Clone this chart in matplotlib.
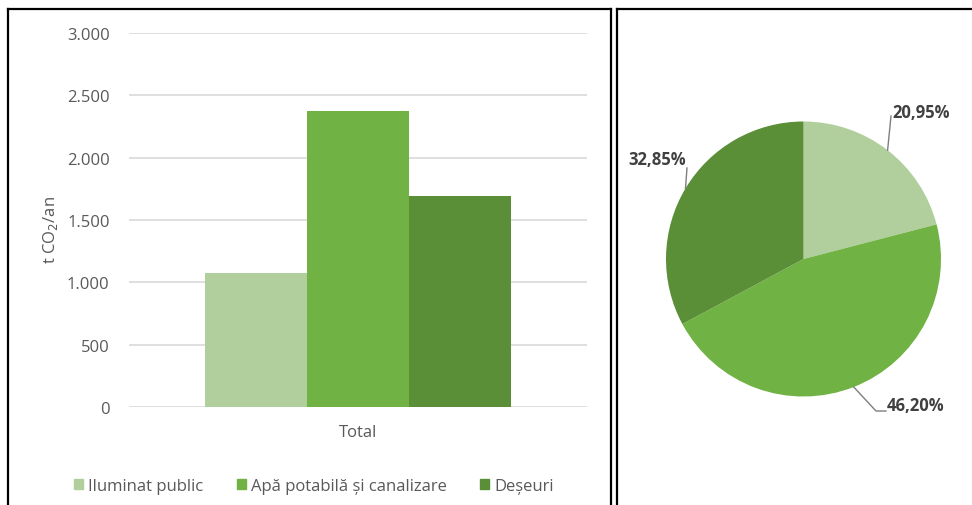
import numpy as np
import matplotlib
matplotlib.use('Agg')
import matplotlib.pyplot as plt
from matplotlib.lines import Line2D
from matplotlib.patches import Patch

plt.rcParams['font.family'] = ['Open Sans', 'DejaVu Sans']

# data
categories = ['Iluminat public', 'Apă potabilă și canalizare', 'Deșeuri']
emissions = [1077, 2376, 1690]          # t CO2/an
shares = [20.95, 46.20, 32.85]          # %
share_labels = ['20,95%', '46,20%', '32,85%']
y_ticks = [0, 500, 1000, 1500, 2000, 2500, 3000]
y_tick_labels = ['0', '500', '1.000', '1.500', '2.000', '2.500', '3.000']
group_label = 'Total'

colors = ['#b0cf9c', '#70b243', '#5a8f37']
text_gray = '#595959'

W, H = 972, 506

def fx(px):
    return px / W

def fy(py):
    return 1 - py / H

fig = plt.figure(figsize=(W / 100, H / 100), dpi=100)

# --- bar chart ---
ax1 = fig.add_axes([fx(129), fy(408), fx(587) - fx(129), fy(34) - fy(408)])
n = len(emissions)
bw = 0.67 / n
offsets = (np.arange(n) - (n - 1) / 2) * bw
for off, val, col, name in zip(offsets, emissions, colors, categories):
    ax1.bar(off, val, width=bw, color=col, label=name, zorder=2)
ax1.set_xlim(-0.5, 0.5)
ax1.set_ylim(0, 3000)
ax1.set_yticks(y_ticks)
ax1.set_yticklabels(y_tick_labels)
ax1.set_xticks([0])
ax1.set_xticklabels([group_label])
ax1.tick_params(axis='both', length=0, labelsize=12, labelcolor=text_gray)
ax1.tick_params(axis='y', pad=14)
ax1.tick_params(axis='x', pad=12)
ax1.yaxis.grid(True, color='#d9d9d9', lw=1.2, zorder=0)
for s in ax1.spines.values():
    s.set_visible(False)
ax1.set_axisbelow(True)

fig.text(fx(51), fy(230), 't CO$_2$/an', rotation=90, ha='center', va='center',
         fontsize=12, color=text_gray)

handles = [Patch(color=c) for c in colors]
fig.legend(handles, categories, loc='center', bbox_to_anchor=(fx(314), fy(487)),
           ncol=3, frameon=False, fontsize=12, labelcolor=text_gray,
           handlelength=0.55, handleheight=0.55, handletextpad=0.3, columnspacing=2.0)

# --- pie chart ---
cx, cy, R = 803.5, 260, 137.5
ax2 = fig.add_axes([fx(cx - R), fy(cy + R), fx(2 * R), fy(cy - R) - fy(cy + R)])
wedges, _ = ax2.pie(shares, colors=colors, startangle=90, counterclock=False, radius=1)
ax2.set_xlim(-1, 1)
ax2.set_ylim(-1, 1)
ax2.set_aspect('equal')
ax2.axis('off')

# label anchors (pixels): leader end points and text position
leader_ends = [[(891, 117)], [(876, 412), (886, 412)], [(687, 169)]]
text_pos = [(892, 113, 'left'), (887, 406, 'left'), (686, 160, 'right')]

def to_data(px, py):
    return (px - cx) / R, (cy - py) / R

for w, lbl, ends, (tx, ty, ha) in zip(wedges, share_labels, leader_ends, text_pos):
    mid = np.deg2rad((w.theta1 + w.theta2) / 2)
    pts = [(np.cos(mid), np.sin(mid))] + [to_data(*p) for p in ends]
    xs, ys = zip(*pts)
    ax2.plot(xs, ys, color='#7f7f7f', lw=1, clip_on=False)
    x, y = to_data(tx, ty)
    ax2.text(x, y, lbl, ha=ha, va='center', fontsize=12, fontweight='bold',
             color='#404040', clip_on=False)

# --- panel frames ---
frame = dict(color='black', lw=1.6)
for xs, ys in [([8, 8], [506, 10]), ([8, 611], [10, 10]), ([611, 611], [10, 506]),
               ([617, 617], [506, 10]), ([617, 972], [10, 10])]:
    fig.add_artist(Line2D([fx(v) for v in xs], [fy(v) for v in ys], **frame))

fig.savefig('out.png', dpi=100, facecolor='white')
